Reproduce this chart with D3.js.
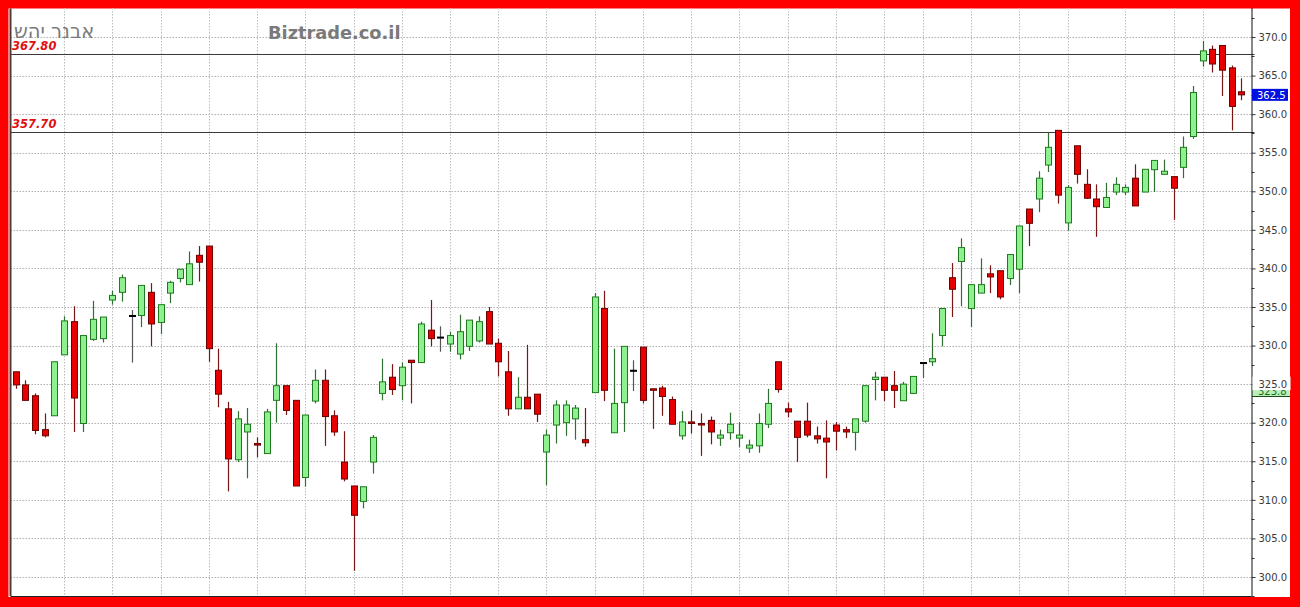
<!DOCTYPE html>
<html>
<head>
<meta charset="utf-8">
<script src="https://cdn.jsdelivr.net/npm/d3@7"></script>
<style>
  html, body { margin: 0; padding: 0; background: #ff0000; }
  svg { display: block; }
</style>
</head>
<body>
<svg id="chart" width="1300" height="607"></svg>
<script>
// ---------- DATA ----------
const titleText = "אבנר יהש";
const siteText = "Biztrade.co.il";
const openVals = [326.6,324.9,323.5,319.1,320.9,328.8,333.1,319.9,330.8,330.9,335.9,336.9,333.9,333.9,336.9,333.0,336.8,338.7,337.9,341.7,
  342.9,326.8,321.8,315.2,318.8,317.3,316.0,322.9,324.8,322.9,312.9,322.8,325.5,320.9,314.9,311.8,309.8,314.9,323.8,325.9,
  324.8,328.1,327.8,332.0,331.1,330.2,328.9,329.9,330.6,334.4,330.3,326.6,321.8,323.3,323.7,316.2,319.7,320.0,320.5,317.8,
  323.9,334.8,318.7,322.6,326.8,329.8,324.4,324.5,323.0,318.3,320.1,319.9,320.3,318.0,318.7,318.0,316.7,317.0,319.8,327.9,
  321.8,320.2,320.2,318.3,318.0,319.7,319.1,318.75,320.2,325.6,325.9,324.8,322.85,323.8,327.8,327.9,331.3,338.8,340.9,334.8,
  336.8,339.3,339.7,338.7,339.9,347.7,349.0,353.4,357.9,345.9,355.9,350.9,349.0,347.9,349.9,349.9,351.7,349.9,352.8,352.2,
  351.9,353.1,357.1,366.9,368.4,368.9,366.0,362.9];
const highVals = [326.6,325.5,323.8,321.2,327.9,333.8,335.1,331.3,335.8,333.7,337.1,339.2,334.6,337.8,338.1,335.3,338.4,339.9,342.2,342.9,
  342.9,329.6,322.7,321.5,321.9,318.1,321.8,330.3,324.8,322.9,321.0,326.9,326.9,321.6,318.9,311.8,311.7,318.4,328.3,327.6,
  327.8,328.1,333.1,335.9,332.5,331.8,334.0,333.3,333.8,335.0,330.9,329.3,325.9,330.1,323.7,319.1,322.9,322.9,322.3,321.9,
  336.8,337.1,329.6,329.9,328.1,329.8,324.4,324.8,323.4,321.5,321.6,321.2,320.8,319.1,321.3,320.1,317.8,321.2,324.4,327.9,
  322.6,320.2,322.6,319.5,320.3,320.1,319.5,320.5,324.8,326.6,325.9,326.7,325.3,326.0,327.8,331.6,334.8,340.7,343.9,337.9,
  341.3,340.4,339.7,341.8,345.5,347.7,352.6,357.6,357.9,350.8,355.9,352.85,350.9,351.1,351.8,350.9,353.5,352.85,354.0,354.1,
  351.9,357.1,363.65,369.5,368.9,368.9,366.3,364.65];
const lowVals = [324.4,322.9,318.5,318.1,320.9,328.8,318.8,318.8,330.6,330.4,335.3,335.7,327.8,332.4,329.9,331.5,335.5,338.2,337.9,338.3,
  327.9,322.0,311.1,314.9,312.8,315.5,316.0,320.0,321.0,311.8,311.7,322.5,317.0,318.3,312.4,300.8,308.9,313.4,322.9,323.6,
  322.9,322.5,327.8,329.9,329.2,329.2,328.2,329.3,330.4,330.2,326.0,320.9,321.8,321.8,320.1,311.9,317.3,318.3,317.8,316.9,
  323.9,322.8,318.7,318.8,324.1,322.5,319.2,320.9,319.8,317.8,318.6,315.7,317.2,317.0,317.8,316.8,316.1,316.1,319.3,323.9,
  320.7,314.9,318.1,317.3,312.8,316.4,318.0,316.4,320.0,322.9,322.8,321.9,322.85,323.8,325.8,327.35,329.9,333.7,335.1,332.4,
  336.8,336.8,336.0,337.85,336.8,342.9,347.3,352.5,348.4,344.9,351.0,349.0,344.1,347.9,349.5,349.5,348.1,349.9,349.9,352.2,
  346.3,351.7,356.8,366.15,365.4,362.35,357.9,361.8];
const closeVals = [324.9,322.9,319.0,318.3,327.9,333.2,323.2,331.3,333.4,333.7,336.5,338.8,333.9,337.8,332.8,335.3,338.2,339.9,340.6,340.8,
  329.6,323.7,315.3,320.5,319.8,317.1,321.4,324.8,321.6,311.8,321.0,325.5,320.8,318.8,312.7,308.0,311.7,318.1,325.3,324.3,
  327.2,327.8,332.8,330.9,331.1,331.3,331.8,333.3,333.1,330.2,327.9,321.8,323.3,321.8,321.1,318.4,322.3,322.3,321.9,317.4,
  336.3,324.2,322.5,329.9,326.8,322.9,324.2,323.4,319.8,320.1,319.9,319.7,318.8,318.4,319.8,318.4,317.1,319.9,322.5,324.3,
  321.4,318.1,318.4,317.9,317.5,318.9,318.8,320.5,324.8,325.9,324.2,324.2,325.0,326.0,327.8,328.3,334.8,337.3,342.7,337.9,
  337.9,338.9,336.3,341.8,345.5,345.85,351.7,355.7,349.5,350.5,352.2,349.1,348.0,349.2,350.9,350.5,348.1,352.85,354.0,352.6,
  350.4,355.7,362.8,368.2,366.5,365.7,361.0,362.5];
const dayIndex = d3.range(closeVals.length);
const gridDays = [5,10,15,20,25,30,35,40,45,50,55,60,65,70,75,80,85,90,94,99,104,109,115,120,123];
const yTicks = [300,305,310,315,320,325,330,335,340,345,350,355,360,365,370];
const levelLines = [367.80, 357.70];
const lastPrice = 362.5;
const otherLabel = 323.8;

(function draw() {
const svg = d3.select("#chart");
const pLeft = 10.5, pRight = 1251.5, pTop = 8, pBottom = 596;

svg.append("rect").attr("x",0).attr("y",0).attr("width",1300).attr("height",607).attr("fill","#ff0000");
svg.append("rect").attr("x",8.5).attr("y",8.5).attr("width",1281.5).attr("height",588.5).attr("fill","#ffffff");

const x = d3.scalePoint().domain(dayIndex).range([15.8, 1241.2]);
const y = d3.scaleLinear().domain([300, 370]).range([577, 37]);

// grid
const grid = svg.append("g");
grid.selectAll("line.h").data(yTicks).join("line")
  .attr("x1", pLeft).attr("x2", pRight)
  .attr("y1", d => Math.round(y(d)) + 0.5).attr("y2", d => Math.round(y(d)) + 0.5)
  .attr("stroke", "#b0b0b0").attr("stroke-width", 1).attr("stroke-dasharray", "1.5,1.5");
grid.selectAll("line.v").data(gridDays).join("line")
  .attr("x1", d => Math.round(x(d)) + 0.5).attr("x2", d => Math.round(x(d)) + 0.5)
  .attr("y1", pTop).attr("y2", pBottom)
  .attr("stroke", "#bdbdbd").attr("stroke-width", 1).attr("stroke-dasharray", "1.5,1.5");

// level lines
svg.selectAll("line.lvl").data(levelLines).join("line")
  .attr("x1", pLeft).attr("x2", pRight + 3)
  .attr("y1", d => Math.round(y(d)) + 0.5).attr("y2", d => Math.round(y(d)) + 0.5)
  .attr("stroke", "#3a3a3a").attr("stroke-width", 1);
svg.selectAll("text.lvl").data(levelLines).join("text")
  .attr("x", 12).attr("y", d => y(d) - 4)
  .attr("font-family", "DejaVu Sans, Verdana, sans-serif")
  .attr("font-size", 11.5).attr("font-weight", "bold").attr("font-style", "italic")
  .attr("fill", "#e01010")
  .text(d => d.toFixed(2));

// titles
svg.append("text").attr("x", 14).attr("y", 38)
  .attr("font-family", "DejaVu Sans, sans-serif").attr("font-size", 19.5)
  .attr("fill", "#7a7a7a").text(titleText);
svg.append("text").attr("x", 268).attr("y", 39)
  .attr("font-family", "DejaVu Sans, Verdana, sans-serif").attr("font-size", 17.8).attr("font-weight", "bold")
  .attr("fill", "#7a7a7a").text(siteText);

// candles
const data = dayIndex.map(i => ({i, o: openVals[i], h: highVals[i], l: lowVals[i], c: closeVals[i]}));
const colorOf = d => d.c > d.o ? "up" : (d.c < d.o ? "down" : "flat");
const wickCol = {up: "#2f6f2f", down: "#7a1515", flat: "#555555"};
const fillCol = {up: "#8ef08e", down: "#e80000", flat: "#000000"};
const strokeCol = {up: "#1f7a1f", down: "#6a0000", flat: "#000000"};
const cg = svg.append("g");
cg.selectAll("line.wick").data(data).join("line")
  .attr("x1", d => Math.round(x(d.i)) + 0.5).attr("x2", d => Math.round(x(d.i)) + 0.5)
  .attr("y1", d => y(d.h)).attr("y2", d => y(d.l))
  .attr("stroke", d => wickCol[colorOf(d)]).attr("stroke-width", 1.2);
cg.selectAll("rect.body").data(data).join("rect")
  .attr("x", d => Math.round(x(d.i)) - 2.5)
  .attr("width", 6)
  .attr("y", d => Math.min(y(d.o), y(d.c)))
  .attr("height", d => Math.max(1, Math.abs(y(d.o) - y(d.c))))
  .attr("fill", d => fillCol[colorOf(d)])
  .attr("stroke", d => strokeCol[colorOf(d)]).attr("stroke-width", 1);

// frame
svg.append("line").attr("x1", pLeft).attr("x2", pLeft).attr("y1", 8.5).attr("y2", pBottom)
  .attr("stroke", "#4a3a3a").attr("stroke-width", 2);
svg.append("line").attr("x1", pLeft).attr("x2", pRight).attr("y1", pBottom + 0.5).attr("y2", pBottom + 0.5)
  .attr("stroke", "#222").attr("stroke-width", 1);

// other label (mostly hidden behind the 325.0 tick label)
const oy = Math.round(y(otherLabel));
svg.append("rect").attr("x", 1252).attr("y", oy - 9).attr("width", 38).attr("height", 12)
  .attr("fill", "#b8f0b8");
svg.append("text").attr("x", 1258).attr("y", oy + 2)
  .attr("font-family", "DejaVu Sans, Verdana, sans-serif").attr("font-size", 10)
  .attr("fill", "#1a6a1a").text(otherLabel.toFixed(1));
svg.append("line").attr("x1", 1252).attr("x2", 1290).attr("y1", oy + 3.5).attr("y2", oy + 3.5)
  .attr("stroke", "#1a4a1a").attr("stroke-width", 1);

// y axis
const axis = d3.axisRight(y).tickValues(yTicks).tickFormat(d3.format(".1f")).tickSize(4).tickPadding(3);
const ag = svg.append("g").attr("transform", `translate(${pRight},0)`).call(axis);
ag.select(".domain").attr("stroke", "#111").attr("d", `M0.5,${pTop}V${pBottom}`);
ag.selectAll(".tick line").attr("stroke", "#333");
ag.selectAll(".tick text").attr("font-family", "DejaVu Sans, Verdana, sans-serif").attr("font-size", 10).attr("fill", "#3a3a3a");
ag.selectAll(".tick").filter(d => d === 325).insert("rect", "text")
  .attr("x", 1).attr("y", -8).attr("width", 38).attr("height", 13.5).attr("fill", "#ffffff");
// minor ticks
const minor = d3.range(297.5, 374, 2.5).filter(v => v % 5 !== 0);
svg.append("g").selectAll("line").data(minor).join("line")
  .attr("x1", pRight).attr("x2", pRight + 3)
  .attr("y1", d => Math.round(y(d)) + 0.5).attr("y2", d => Math.round(y(d)) + 0.5)
  .attr("stroke", "#333");

// last price label
const lp = svg.append("g").attr("transform", `translate(1252,${y(lastPrice)})`);
lp.append("rect").attr("x", 0).attr("y", -6).attr("width", 36).attr("height", 12).attr("fill", "#0010e0");
lp.append("text").attr("x", 5).attr("y", 4)
  .attr("font-family", "DejaVu Sans, Verdana, sans-serif").attr("font-size", 10)
  .attr("fill", "#ffffff").text(lastPrice.toFixed(1));
})();
</script>
</body>
</html>
